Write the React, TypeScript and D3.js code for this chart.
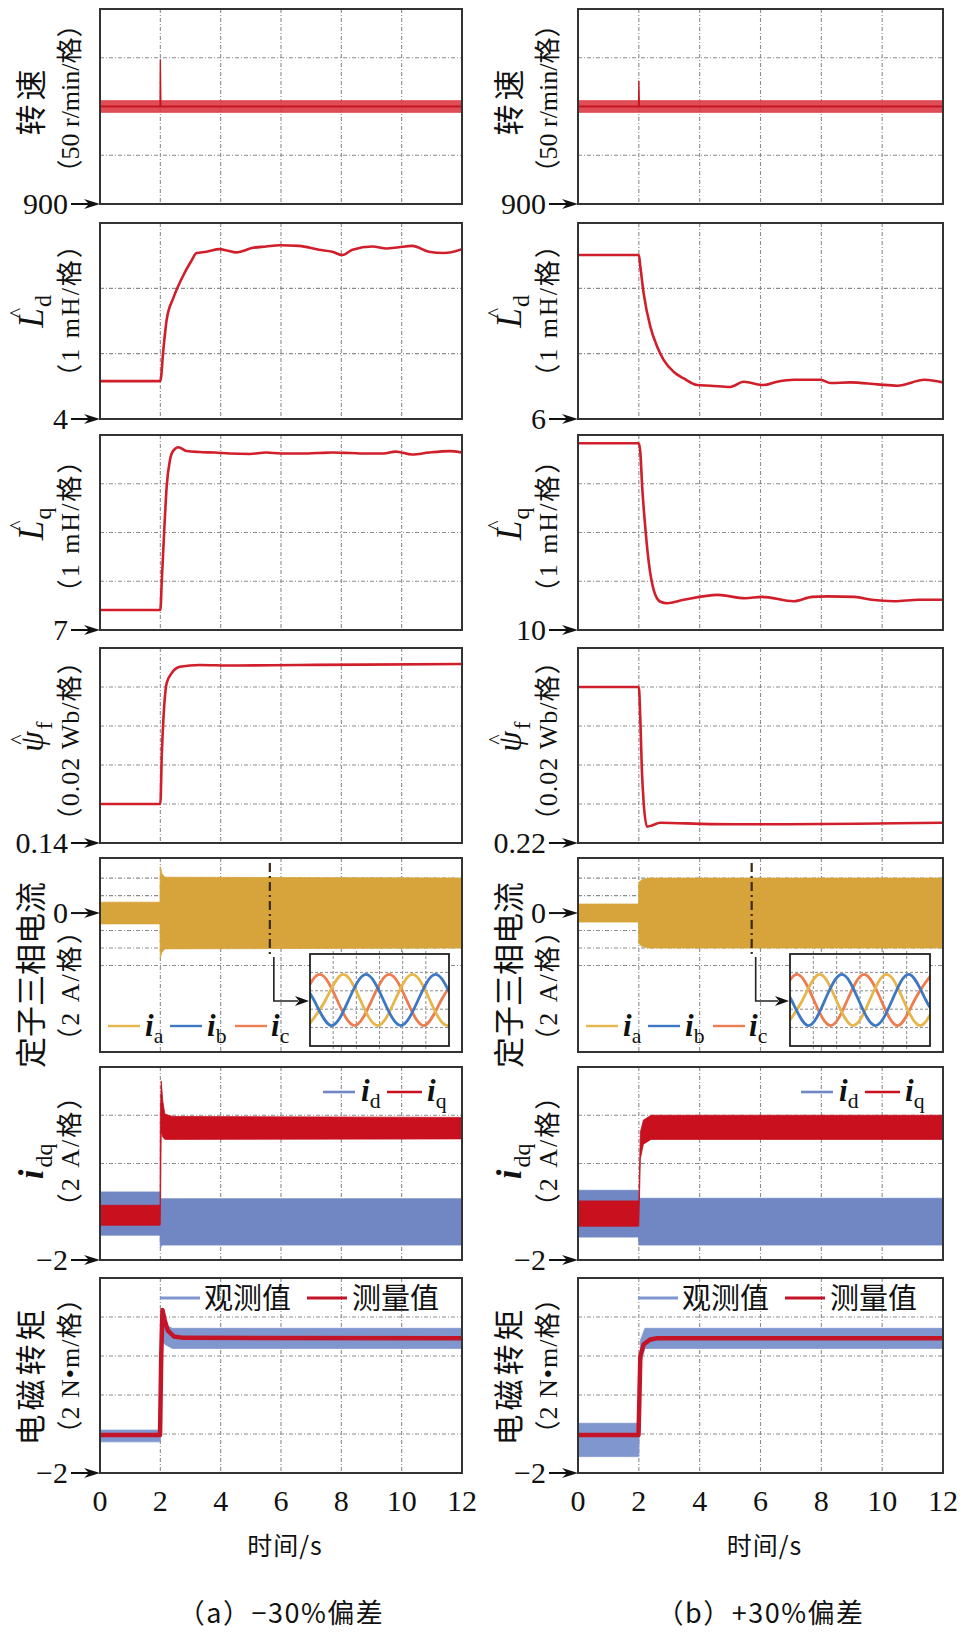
import React from 'react';
import * as d3 from 'd3';

// ======================= DATA =======================
const TIME_TICKS = [0, 2, 4, 6, 8, 10, 12];
const TIME_GRID = [2, 4, 6, 8, 10];

// Panel 1: speed (r/min)
const SPEED_GRID = [950, 1050];
const SPEED_A_T = [0, 12];
const SPEED_A_HI = [1006, 1006];
const SPEED_A_LO = [994, 994];
const SPEED_A_SPIKE_T = [1.99, 2.0, 2.02];
const SPEED_A_SPIKE_V = [1000, 1048, 1000];
const SPEED_B_T = [0, 12];
const SPEED_B_HI = [1006, 1006];
const SPEED_B_LO = [994, 994];
const SPEED_B_SPIKE_T = [1.99, 2.0, 2.02];
const SPEED_B_SPIKE_V = [1000, 1026, 1000];

// Panel 2: Ld estimate (mH)
const LD_A_T = [0, 2.0, 2.1, 2.21, 2.43, 2.71, 3.04, 3.2, 3.53, 3.97, 4.2, 4.52, 5.07, 5.5, 5.95, 6.6, 7.26, 7.7, 8.03, 8.37, 9.03, 9.5, 9.9, 10.35, 10.9, 11.4, 12];
const LD_A_V = [4.58, 4.58, 5.06, 5.52, 5.85, 6.15, 6.43, 6.54, 6.56, 6.6, 6.58, 6.55, 6.62, 6.64, 6.66, 6.65, 6.59, 6.56, 6.51, 6.59, 6.64, 6.61, 6.63, 6.65, 6.56, 6.54, 6.6];
const LD_B_T = [0, 2.0, 2.05, 2.16, 2.38, 2.6, 2.82, 3.15, 3.48, 3.92, 4.36, 5.0, 5.45, 6.1, 6.55, 7.1, 7.97, 8.3, 8.95, 9.85, 10.5, 11.4, 12];
const LD_B_V = [8.51, 8.51, 8.33, 7.92, 7.41, 7.11, 6.9, 6.72, 6.62, 6.52, 6.51, 6.49, 6.57, 6.52, 6.57, 6.6, 6.6, 6.55, 6.56, 6.53, 6.51, 6.6, 6.56];

// Panel 3: Lq estimate (mH)
const LQ_A_T = [0, 2.0, 2.05, 2.13, 2.21, 2.32, 2.43, 2.6, 2.87, 3.3, 3.8, 4.3, 4.97, 5.5, 6.0, 6.6, 7.2, 7.7, 8.3, 8.9, 9.4, 9.8, 10.35, 10.9, 11.6, 12];
const LQ_A_V = [7.41, 7.41, 8.03, 9.05, 9.94, 10.49, 10.68, 10.75, 10.67, 10.65, 10.64, 10.62, 10.61, 10.64, 10.62, 10.62, 10.63, 10.64, 10.63, 10.62, 10.62, 10.66, 10.6, 10.64, 10.67, 10.64];
const LQ_B_T = [0, 2.0, 2.05, 2.11, 2.22, 2.33, 2.49, 2.71, 2.93, 3.48, 4.6, 5.5, 6.05, 7.1, 7.7, 8.2, 9.1, 9.65, 10.4, 11.2, 12];
const LQ_B_V = [13.83, 13.83, 13.64, 12.94, 12.05, 11.37, 10.82, 10.58, 10.55, 10.62, 10.72, 10.65, 10.68, 10.59, 10.68, 10.69, 10.68, 10.62, 10.59, 10.62, 10.62];

// Panel 4: flux linkage estimate (Wb)
const PSI_A_T = [0, 2.0, 2.05, 2.1, 2.21, 2.37, 2.65, 3.3, 4.4, 6.6, 8.8, 12];
const PSI_A_V = [0.16, 0.16, 0.186, 0.203, 0.222, 0.227, 0.2304, 0.2313, 0.231, 0.2313, 0.2315, 0.2318];
const PSI_B_T = [0, 2.0, 2.05, 2.1, 2.16, 2.27, 2.43, 2.7, 4.35, 6.55, 9.85, 12];
const PSI_B_V = [0.3, 0.3, 0.283, 0.2574, 0.2405, 0.2284, 0.229, 0.2304, 0.2297, 0.2296, 0.23, 0.2304];

// Panel 5: stator three-phase current envelope (A)
const IABC_A_T = [0, 1.99, 2.0, 2.05, 2.15, 12];
const IABC_A_HI = [1.24, 1.24, 5.3, 4.5, 4.1, 4.0];
const IABC_A_LO = [-1.24, -1.24, -5.1, -4.5, -4.1, -4.0];
const IABC_B_T = [0, 1.99, 2.0, 2.1, 2.3, 12];
const IABC_B_HI = [1.03, 1.03, 3.5, 3.8, 4.0, 4.0];
const IABC_B_LO = [-1.03, -1.03, -3.5, -3.8, -4.0, -4.0];
const ZOOM_MARK_A = 5.63;
const ZOOM_MARK_B = 5.71;
// inset key points [position within window, per-unit value]
const INSET_A_IA: [number, number][] = [[-0.013, -1], [0.112, 0], [0.237, 1], [0.362, 0], [0.487, -1], [0.612, 0], [0.737, 1], [0.862, 0], [0.987, -1], [1.112, 0]];
const INSET_A_IB: [number, number][] = [[-0.097, 1], [0.028, 0], [0.153, -1], [0.278, 0], [0.403, 1], [0.528, 0], [0.653, -1], [0.778, 0], [0.903, 1], [1.028, 0]];
const INSET_A_IC: [number, number][] = [[-0.055, 0], [0.07, 1], [0.195, 0], [0.32, -1], [0.445, 0], [0.57, 1], [0.695, 0], [0.82, -1], [0.945, 0], [1.07, 1]];
const INSET_B_IA: [number, number][] = [[-0.03, -1], [0.09, 0], [0.21, 1], [0.33, 0], [0.45, -1], [0.57, 0], [0.69, 1], [0.81, 0], [0.93, -1], [1.05, 0]];
const INSET_B_IB: [number, number][] = [[-0.11, 1], [0.01, 0], [0.13, -1], [0.25, 0], [0.37, 1], [0.49, 0], [0.61, -1], [0.73, 0], [0.85, 1], [0.97, 0], [1.09, -1]];
const INSET_B_IC: [number, number][] = [[-0.07, 0], [0.05, 1], [0.17, 0], [0.29, -1], [0.41, 0], [0.53, 1], [0.65, 0], [0.77, -1], [0.89, 0], [1.01, 1]];

// Panel 6: id / iq envelopes (A)
const IQ_A_T = [0, 1.99, 2.0, 2.03, 2.08, 2.15, 2.4, 12];
const IQ_A_HI = [0.27, 0.27, 4.0, 5.42, 4.6, 4.05, 3.95, 3.91];
const IQ_A_LO = [-0.56, -0.56, -0.5, 3.3, 3.1, 3.0, 3.0, 3.02];
const ID_A_T = [0, 1.99, 2.0, 2.05, 12];
const ID_A_HI = [0.82, 0.82, 0.54, 0.54, 0.54];
const ID_A_LO = [-0.97, -0.97, -1.5, -1.38, -1.38];
const IQ_B_T = [0, 1.99, 2.0, 2.05, 2.15, 2.4, 12];
const IQ_B_HI = [0.45, 0.45, 0.5, 3.3, 3.8, 4.0, 4.0];
const IQ_B_LO = [-0.6, -0.6, -0.6, 2.2, 2.8, 3.0, 3.0];
const ID_B_T = [0, 1.99, 2.0, 12];
const ID_B_HI = [0.89, 0.89, 0.56, 0.56];
const ID_B_LO = [-1.05, -1.05, -1.38, -1.38];

// Panel 7: electromagnetic torque (N·m)
const TOBS_A_T = [0, 1.99, 2.0, 2.05, 2.15, 2.4, 12];
const TOBS_A_HI = [0.2, 0.2, 3.0, 5.85, 5.6, 5.42, 5.42];
const TOBS_A_LO = [-0.4, -0.4, -0.4, 4.8, 4.6, 4.39, 4.39];
const TMEAS_A_T = [0, 1.99, 2.03, 2.07, 2.15, 2.25, 2.45, 2.76, 12];
const TMEAS_A_V = [-0.05, -0.05, 4.0, 6.36, 5.8, 5.3, 5.0, 4.93, 4.91];
const TOBS_B_T = [0, 1.99, 2.0, 2.05, 2.2, 12];
const TOBS_B_HI = [0.55, 0.55, 0.55, 4.8, 5.42, 5.42];
const TOBS_B_LO = [-1.16, -1.16, -1.16, 3.6, 4.39, 4.39];
const TMEAS_B_T = [0, 1.99, 2.05, 2.16, 2.38, 2.6, 12];
const TMEAS_B_V = [-0.05, -0.05, 4.0, 4.6, 4.85, 4.91, 4.91];

const CAPTIONS = ['（a）−30%偏差', '（b）+30%偏差'];
const X_TITLE = '时间/s';
const ROW_UNITS = ['（50 r/min/格）', '（1 mH/格）', '（1 mH/格）', '（0.02 Wb/格）', '（2 A/格）', '（2 A/格）', '（2 N•m/格）'];
const TICKS_A = ['900', '4', '7', '0.14', '0', '−2', '−2'];
const TICKS_B = ['900', '6', '10', '0.22', '0', '−2', '−2'];
const LEGEND_TORQUE = ['观测值', '测量值'];

// ======================= LAYOUT / STYLE =======================
const COLS = [{ x0: 100, x1: 462 }, { x0: 578, x1: 943 }];
const TOPS = [9, 223, 435, 648, 858, 1067, 1278];
const BOTTOMS = [204, 419, 630, 843, 1052, 1260, 1473];
const L1_OFF = [-6, -11, -10, -10, 20, 0, 0];
const L2_OFF = [-8, -11, -7, -5, 30, -13, -10];
const L2_LS = [0, 2, 2, 1, 2, 2, 1];
const SERIF = "'Liberation Serif','Noto Sans CJK SC',serif";
const CJK = "'Noto Sans CJK SC',sans-serif";
const RED = '#D01F2B';
const GOLD = '#D6A43A';
const IDBLUE = '#7187C4';
const IQRED = '#C8101E';
const OBSBLUE = '#8096CE';
const C_A = '#E6B54C';
const C_B = '#3E78C2';
const C_C = '#EC7D50';
const GRID = '#8c8c8c';
const FRAME = '#333';

type Band = { t: number[]; hi: number[]; lo: number[]; color: string; op?: number };
type Ln = { t: number[]; v: number[]; color: string; w: number; mono?: boolean };

function bandD(xs: any, ys: any, b: Band) {
  const idx = b.t.map((_, i) => i);
  return d3.area<number>().x((i) => xs(b.t[i])).y0((i) => ys(b.lo[i])).y1((i) => ys(b.hi[i]))(idx) || '';
}
function lineD(xs: any, ys: any, l: Ln) {
  const idx = l.t.map((_, i) => i);
  const g = d3.line<number>().x((i) => xs(l.t[i])).y((i) => ys(l.v[i]));
  if (l.mono) g.curve(d3.curveMonotoneX);
  return g(idx) || '';
}

function Arrow({ x, y }: { x: number; y: number }) {
  return (
    <g>
      <line x1={x - 29} y1={y} x2={x - 10} y2={y} stroke="#111" strokeWidth={2} />
      <path d={`M${x},${y} L${x - 16},${y - 5} L${x - 11},${y} L${x - 16},${y + 5} Z`} fill="#111" />
    </g>
  );
}

function RotText({ cx, cy, fs, family, children, ls }: any) {
  return (
    <text transform={`translate(${cx + fs * 0.34},${cy}) rotate(-90)`} textAnchor="middle" fontSize={fs} fontFamily={family} letterSpacing={ls} fill="#111">
      {children}
    </text>
  );
}

function MathLabel({ cx, cy, kind }: { cx: number; cy: number; kind: number }) {
  const tr = `translate(${cx + 12},${cy}) rotate(-90)`;
  if (kind === 1 || kind === 2) {
    return (
      <g transform={tr} fill="#111" fontFamily={SERIF}>
        <text x={-8} y={0} textAnchor="middle" fontStyle="italic" fontSize={35}>L</text>
        <text x={-3} y={-19} textAnchor="middle" fontSize={22}>^</text>
        <text x={3} y={8} fontSize={24}>{kind === 1 ? 'd' : 'q'}</text>
      </g>
    );
  }
  if (kind === 3) {
    return (
      <g transform={tr} fill="#111" fontFamily={SERIF}>
        <text x={-6} y={0} textAnchor="middle" fontStyle="italic" fontSize={33}>ψ</text>
        <text x={-4} y={-18} textAnchor="middle" fontSize={22}>^</text>
        <text x={6} y={9} fontSize={24}>f</text>
      </g>
    );
  }
  return (
    <g transform={tr} fill="#111" fontFamily={SERIF}>
      <text x={-11} y={0} textAnchor="middle" fontStyle="italic" fontWeight={700} fontSize={35}>i</text>
      <text x={-4} y={9} fontSize={24}>dq</text>
    </g>
  );
}

function SubLabel({ x, y, sub, fs = 30 }: { x: number; y: number; sub: string; fs?: number }) {
  return (
    <text x={x} y={y} fontFamily={SERIF} fill="#111">
      <tspan fontStyle="italic" fontWeight={700} fontSize={fs}>i</tspan>
      <tspan fontSize={fs * 0.7} dy={7}>{sub}</tspan>
    </text>
  );
}

function Inset({ x, y, w, h, ia, ib, ic, id }: any) {
  const xs = d3.scaleLinear().domain([0, 1]).range([x, x + w]);
  const ys = d3.scaleLinear().domain([-1.8, 1.8]).range([y + h, y]);
  const g = d3.line<[number, number]>().x((d) => xs(d[0])).y((d) => ys(d[1])).curve(d3.curveNatural);
  const vg = [1, 2, 3, 4, 5].map((k) => x + (w * k) / 6);
  const hg = [1, 2, 3, 4].map((k) => y + (h * k) / 5);
  return (
    <g>
      <rect x={x} y={y} width={w} height={h} fill="#fff" />
      <clipPath id={id}>
        <rect x={x} y={y} width={w} height={h} />
      </clipPath>
      {vg.map((gx, i) => (
        <line key={'v' + i} x1={gx} x2={gx} y1={y - 3} y2={y + h + 3} stroke={GRID} strokeWidth={1} strokeDasharray="3 2" />
      ))}
      {hg.map((gy, i) => (
        <line key={'h' + i} x1={x} x2={x + w} y1={gy} y2={gy} stroke={GRID} strokeWidth={1} strokeDasharray="3 2" />
      ))}
      <g clipPath={`url(#${id})`} fill="none" strokeWidth={2.8} strokeLinejoin="round">
        <path d={g(ic) || ''} stroke={C_C} />
        <path d={g(ia) || ''} stroke={C_A} />
        <path d={g(ib) || ''} stroke={C_B} />
      </g>
      <rect x={x} y={y} width={w} height={h} fill="none" stroke="#222" strokeWidth={1.8} />
    </g>
  );
}

function buildRows(c: number) {
  const A = c === 0;
  return [
    {
      domain: [900, 1100], grid: SPEED_GRID, tickAt: 900,
      bands: [{ t: A ? SPEED_A_T : SPEED_B_T, hi: A ? SPEED_A_HI : SPEED_B_HI, lo: A ? SPEED_A_LO : SPEED_B_LO, color: '#DB3A44', op: 0.9 }],
      lines: [
        { t: A ? SPEED_A_T : SPEED_B_T, v: (A ? SPEED_A_T : SPEED_B_T).map(() => 1000), color: '#C81621', w: 2 },
        { t: A ? SPEED_A_SPIKE_T : SPEED_B_SPIKE_T, v: A ? SPEED_A_SPIKE_V : SPEED_B_SPIKE_V, color: '#C81621', w: 1.3 },
      ],
    },
    {
      domain: A ? [4, 7] : [6, 9], grid: A ? [5, 6] : [7, 8], tickAt: A ? 4 : 6, bands: [],
      lines: [{ t: A ? LD_A_T : LD_B_T, v: A ? LD_A_V : LD_B_V, color: RED, w: 2.6, mono: true }],
    },
    {
      domain: A ? [7, 11] : [10, 14], grid: A ? [8, 9, 10] : [11, 12, 13], tickAt: A ? 7 : 10, bands: [],
      lines: [{ t: A ? LQ_A_T : LQ_B_T, v: A ? LQ_A_V : LQ_B_V, color: RED, w: 2.6, mono: true }],
    },
    {
      domain: A ? [0.14, 0.24] : [0.22, 0.32], grid: A ? [0.16, 0.18, 0.2, 0.22] : [0.24, 0.26, 0.28, 0.3], tickAt: A ? 0.14 : 0.22, bands: [],
      lines: [{ t: A ? PSI_A_T : PSI_B_T, v: A ? PSI_A_V : PSI_B_V, color: RED, w: 2.6, mono: true }],
    },
    {
      domain: [-15.9, 6.3], grid: [-6, -4, -2, 0, 2, 4], tickAt: 0,
      bands: [{ t: A ? IABC_A_T : IABC_B_T, hi: A ? IABC_A_HI : IABC_B_HI, lo: A ? IABC_A_LO : IABC_B_LO, color: GOLD }],
      lines: [],
    },
    {
      domain: [-2, 6], grid: [0, 2, 4], tickAt: -2,
      bands: [
        { t: A ? ID_A_T : ID_B_T, hi: A ? ID_A_HI : ID_B_HI, lo: A ? ID_A_LO : ID_B_LO, color: IDBLUE },
        { t: A ? IQ_A_T : IQ_B_T, hi: A ? IQ_A_HI : IQ_B_HI, lo: A ? IQ_A_LO : IQ_B_LO, color: IQRED },
      ],
      lines: [],
    },
    {
      domain: [-2, 8], grid: [0, 2, 4, 6], tickAt: -2,
      bands: [{ t: A ? TOBS_A_T : TOBS_B_T, hi: A ? TOBS_A_HI : TOBS_B_HI, lo: A ? TOBS_A_LO : TOBS_B_LO, color: OBSBLUE }],
      lines: [{ t: A ? TMEAS_A_T : TMEAS_B_T, v: A ? TMEAS_A_V : TMEAS_B_V, color: '#C41428', w: 4.5 }],
    },
  ];
}

function Column({ c }: { c: number }) {
  const { x0, x1 } = COLS[c];
  const xs = d3.scaleLinear().domain([0, 12]).range([x0, x1]);
  const rows = buildRows(c);
  const ticks = c === 0 ? TICKS_A : TICKS_B;
  const cx1 = x0 - 69;
  const cx2 = x0 - 30;
  return (
    <g>
      {rows.map((r, k) => {
        const top = TOPS[k];
        const bot = BOTTOMS[k];
        const ys = d3.scaleLinear().domain(r.domain as [number, number]).range([bot, top]);
        const cid = `clip-${c}-${k}`;
        const cy = (top + bot) / 2;
        const ty = ys(r.tickAt);
        return (
          <g key={k}>
            <rect x={x0} y={top} width={x1 - x0} height={bot - top} fill="#fff" />
            <clipPath id={cid}>
              <rect x={x0} y={top} width={x1 - x0} height={bot - top} />
            </clipPath>
            {TIME_GRID.map((t) => (
              <line key={'vg' + t} x1={xs(t)} x2={xs(t)} y1={top} y2={bot} stroke={GRID} strokeWidth={1.1} strokeDasharray="4 2 1 2" />
            ))}
            {r.grid.map((g: number) => (
              <line key={'hg' + g} x1={x0} x2={x1} y1={ys(g)} y2={ys(g)} stroke={GRID} strokeWidth={1.1} strokeDasharray="4 2 1 2" />
            ))}
            <g clipPath={`url(#${cid})`}>
              {r.bands.map((b: Band, i: number) => (
                <path key={'b' + i} d={bandD(xs, ys, b)} fill={b.color} fillOpacity={b.op ?? 1} stroke={b.color} strokeWidth={0.8} />
              ))}
              {r.lines.map((l: Ln, i: number) => (
                <path key={'l' + i} d={lineD(xs, ys, l)} fill="none" stroke={l.color} strokeWidth={l.w} strokeLinejoin="round" />
              ))}
            </g>
            {k === 4 && (() => {
              const mx = xs(c === 0 ? ZOOM_MARK_A : ZOOM_MARK_B);
              const ix = c === 0 ? 310 : 790;
              const iw = c === 0 ? 139 : 140;
              return (
                <g>
                  <line x1={mx} x2={mx} y1={top + 5} y2={957} stroke="#3a2a10" strokeWidth={2.2} strokeDasharray="9 4 2 4" />
                  <path d={`M${mx + 4},957 L${mx + 4},1001 L${ix - 12},1001`} fill="none" stroke="#222" strokeWidth={1.6} />
                  <path d={`M${ix - 1},1001 L${ix - 15},996 L${ix - 11},1001 L${ix - 15},1006 Z`} fill="#111" />
                  <Inset x={ix} y={954} w={iw} h={92} id={`inset-${c}`}
                    ia={c === 0 ? INSET_A_IA : INSET_B_IA} ib={c === 0 ? INSET_A_IB : INSET_B_IB} ic={c === 0 ? INSET_A_IC : INSET_B_IC} />
                  <line x1={x0 + 8} x2={x0 + 40} y1={1026} y2={1026} stroke={C_A} strokeWidth={2.4} />
                  <SubLabel x={x0 + 45} y={1036} sub="a" fs={31} />
                  <line x1={x0 + 70} x2={x0 + 102} y1={1026} y2={1026} stroke={C_B} strokeWidth={2.4} />
                  <SubLabel x={x0 + 107} y={1036} sub="b" fs={31} />
                  <line x1={x0 + 135} x2={x0 + 167} y1={1026} y2={1026} stroke={C_C} strokeWidth={2.4} />
                  <SubLabel x={x0 + 171} y={1036} sub="c" fs={31} />
                </g>
              );
            })()}
            {k === 5 && (
              <g>
                <line x1={x0 + 223} x2={x0 + 255} y1={1092} y2={1092} stroke={IDBLUE} strokeWidth={2.6} />
                <SubLabel x={x0 + 261} y={1101} sub="d" fs={31} />
                <line x1={x0 + 287} x2={x0 + 322} y1={1092} y2={1092} stroke={IQRED} strokeWidth={2.6} />
                <SubLabel x={x0 + 327} y={1101} sub="q" fs={31} />
              </g>
            )}
            {k === 6 && (
              <g fontFamily={CJK} fontSize={29} fill="#111">
                <line x1={x0 + 60} x2={x0 + 100} y1={1298} y2={1298} stroke={OBSBLUE} strokeWidth={3} />
                <text x={x0 + 104} y={1309}>{LEGEND_TORQUE[0]}</text>
                <line x1={x0 + 207} x2={x0 + 247} y1={1298} y2={1298} stroke="#C41428" strokeWidth={3} />
                <text x={x0 + 252} y={1309}>{LEGEND_TORQUE[1]}</text>
              </g>
            )}
            <rect x={x0} y={top} width={x1 - x0} height={bot - top} fill="none" stroke={FRAME} strokeWidth={2} />
            <text x={x0 - 32} y={ty + 10} textAnchor="end" fontFamily={SERIF} fontSize={30} fill="#111">{ticks[k]}</text>
            <Arrow x={x0} y={ty} />
            {k === 0 || k === 4 || k === 6 ? (
              <RotText cx={cx1} cy={cy + L1_OFF[k]} fs={31} family={CJK} ls={k === 4 ? 0 : 4}>
                {k === 0 ? '转速' : k === 4 ? '定子三相电流' : '电磁转矩'}
              </RotText>
            ) : (
              <MathLabel cx={cx1} cy={cy + L1_OFF[k]} kind={k === 5 ? 5 : k} />
            )}
            <RotText cx={cx2} cy={cy + L2_OFF[k]} fs={26} family={SERIF} ls={L2_LS[k]}>{ROW_UNITS[k]}</RotText>
          </g>
        );
      })}
      {TIME_TICKS.map((t) => (
        <text key={'xt' + t} x={xs(t)} y={1511} textAnchor="middle" fontFamily={SERIF} fontSize={30} fill="#111">{t}</text>
      ))}
      <text x={(x0 + x1) / 2 + 4} y={1555} textAnchor="middle" fontFamily={CJK} fontSize={25} letterSpacing={1} fill="#111">{X_TITLE}</text>
      <text x={(x0 + x1) / 2 + 0} y={1623} textAnchor="middle" fontFamily={CJK} fontSize={27} letterSpacing={1.5} fill="#111">{CAPTIONS[c]}</text>
    </g>
  );
}

export default function App() {
  return (
    <svg width={969} height={1638} viewBox="0 0 969 1638" style={{ position: 'absolute', left: 0, top: 0, background: '#fff' }}>
      <rect x={0} y={0} width={969} height={1638} fill="#fff" />
      <Column c={0} />
      <Column c={1} />
    </svg>
  );
}
